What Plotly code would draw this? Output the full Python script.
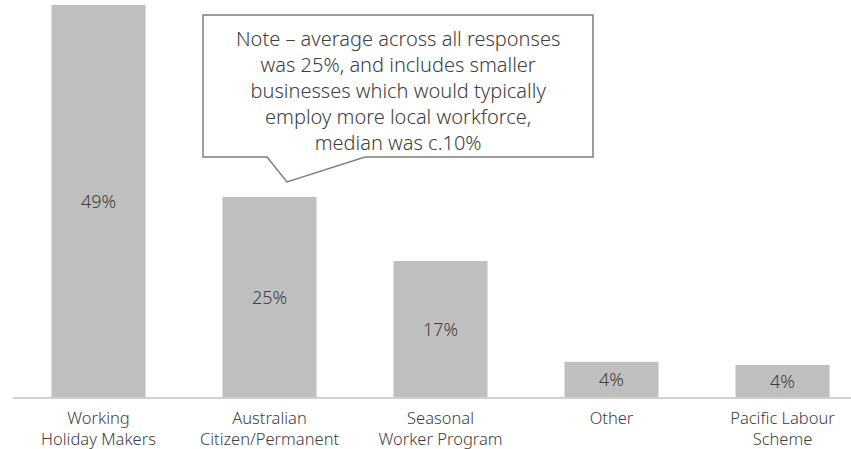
import plotly.graph_objects as go

# Share of workforce by source
categories = [
    "Working<br>Holiday Makers",
    "Australian<br>Citizen/Permanent",
    "Seasonal<br>Worker Program",
    "Other",
    "Pacific Labour<br>Scheme",
]
shares = [49, 25, 17, 4.4, 4.0]

note_lines = [
    "Note \u2013 average across all responses",
    "was 25%, and includes smaller",
    "businesses which would typically",
    "employ more local workforce,",
    "median was c.10%",
]

W, H = 851, 449
ML, MR, MT, MB = 13, 0, 0, 52
PLOT_W = W - ML - MR
PLOT_H = H - MT - MB
PX_PER_UNIT = 8.0  # pixels per percentage point

TEXT = "#404040"
FONT = "Noto Sans"

fig = go.Figure(
    go.Bar(
        x=categories,
        y=shares,
        marker=dict(color="#bfbfbf", line=dict(width=0)),
        texttemplate="%{y:.0f}%",
        textposition="inside",
        insidetextanchor="middle",
        textfont=dict(family=FONT, size=18, color=TEXT, weight=300),
        hoverinfo="skip",
    )
)


def px_to_paper(px, py):
    return (px - ML) / PLOT_W, (H - MB - py) / PLOT_H


# Speech-bubble callout
pts = [(203, 15), (593, 15), (593, 157), (365, 157), (287, 182), (267, 157), (203, 157)]
path = ""
for i, (px, py) in enumerate(pts):
    xp, yp = px_to_paper(px, py)
    path += ("M" if i == 0 else "L") + f" {xp:.5f},{yp:.5f} "
path += "Z"

fig.add_shape(
    type="path",
    path=path,
    xref="paper",
    yref="paper",
    fillcolor="white",
    line=dict(color="#7f7f7f", width=1.5),
    layer="above",
)

cx, cy = px_to_paper(398, 91)
fig.add_annotation(
    x=cx,
    y=cy,
    xref="paper",
    yref="paper",
    text="<br>".join(note_lines),
    showarrow=False,
    xanchor="center",
    yanchor="middle",
    align="center",
    font=dict(family=FONT, size=20, color=TEXT, weight=300),
)

fig.update_layout(
    width=W,
    height=H,
    margin=dict(l=ML, r=MR, t=MT, b=MB, pad=0),
    paper_bgcolor="white",
    plot_bgcolor="white",
    bargap=0.45,
    showlegend=False,
    font=dict(family=FONT, color=TEXT),
    xaxis=dict(
        range=[-0.5, -0.5 + PLOT_W / 171.0],
        showline=True,
        linecolor="#d0d0d0",
        linewidth=2,
        showgrid=False,
        zeroline=False,
        ticks="",
        ticklabelstandoff=5,
        tickfont=dict(family=FONT, size=16.5, color=TEXT, weight=300),
        fixedrange=True,
    ),
    yaxis=dict(
        range=[0, PLOT_H / PX_PER_UNIT],
        visible=False,
        showgrid=False,
        zeroline=False,
        fixedrange=True,
    ),
)

fig.write_html("out.html", config={"displayModeBar": False})
